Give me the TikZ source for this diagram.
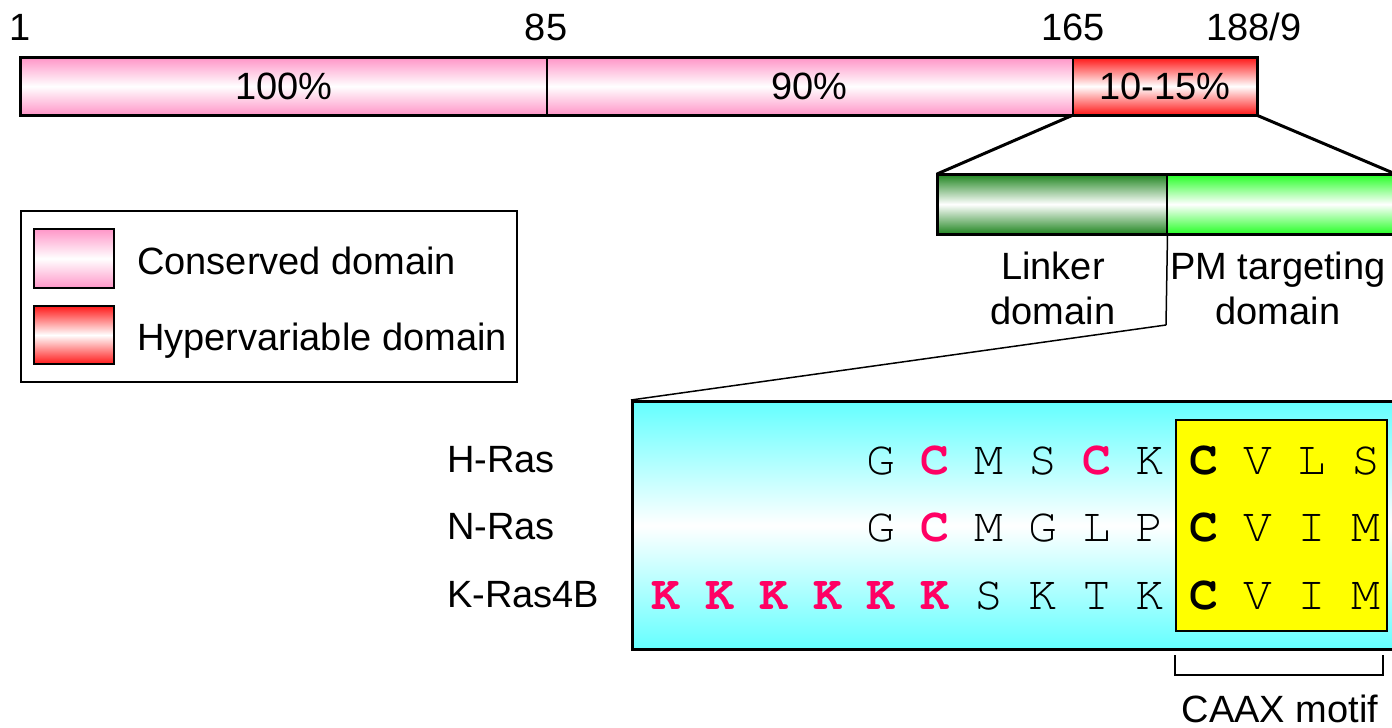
\documentclass[tikz,border=0pt]{standalone}
\usepackage{fontspec}
\setmainfont{Liberation Sans}
\newfontfamily\seqfont{TeX Gyre Cursor}
\definecolor{pinkc}{RGB}{255,150,200}
\definecolor{redc}{RGB}{255,25,25}
\definecolor{dgreen}{RGB}{35,135,35}
\definecolor{lgreen}{RGB}{40,255,40}
\definecolor{cyanc}{RGB}{100,255,255}
\definecolor{yell}{RGB}{255,255,0}
\definecolor{magc}{RGB}{255,0,100}
\tikzset{
  lbl/.style={font=\fontsize{38}{45}\selectfont, inner sep=0},
  seg/.style={draw, line width=1.5, inner sep=0, anchor=north west, minimum height=#1},
  seg/.default=57,
  outline/.style={draw, line width=3},
  thinline/.style={line width=1.5},
  zoomline/.style={line width=3},
  aa/.style={font=\seqfont\fontsize{48}{50}\selectfont, inner sep=0, anchor=base},
  aared/.style={aa, font=\seqfont\bfseries\fontsize{48}{50}\selectfont, text=magc},
  aabold/.style={aa, font=\seqfont\bfseries\fontsize{48}{50}\selectfont},
}
\begin{document}
\begin{tikzpicture}[x=1pt, y=-1pt]
\useasboundingbox (0,0) rectangle (1392,728);
\clip (0,0) rectangle (1392,728);
\fill[white] (0,0) rectangle (1392,728);

% full-length protein bar
\node[seg, minimum width=526, top color=pinkc, bottom color=pinkc, middle color=white] (s1) at (20,57) {};
\node[seg, minimum width=526, top color=pinkc, bottom color=pinkc, middle color=white] (s2) at (546,57) {};
\node[seg, minimum width=184, top color=redc, bottom color=redc, middle color=white] (s3) at (1072,57) {};
\draw[outline] (s1.north west) rectangle (s3.south east);
\node[lbl] (p1) at (s1.center) {100\%};
\node[lbl] (p2) at (s2.center) {90\%};
\node[lbl] (p3) at (s3.center) {10-15\%};

% residue numbers
\node[lbl, anchor=base] (n1) at (s1.north west |- 0,40) {1};
\node[lbl, anchor=base] (n85) at (s2.north west |- 0,40) {85};
\node[lbl, anchor=base] (n165) at (1073,40) {165};
\node[lbl, anchor=base] (n188) at (1254,40) {188/9};

% hypervariable region enlarged
\node[seg=59, minimum width=229, top color=dgreen, bottom color=dgreen, middle color=white] (g1) at (937,174) {};
\node[seg=59, minimum width=228, top color=lgreen, bottom color=lgreen, middle color=white] (g2) at (1166,174) {};
\draw[outline] (g1.north west) rectangle (g2.south east);
\draw[zoomline] (s3.south west) -- (g1.north west);
\draw[zoomline] (s3.south east) -- (g2.north east);
\node[lbl, align=center, anchor=north] (linker) at (1053,252) {Linker\\domain};
\node[lbl, align=center, anchor=north] (pmt) at (1278,252) {PM targeting\\domain};

% legend
\node[draw, line width=2, inner sep=0, anchor=north west, minimum width=496, minimum height=171] (leg) at (20,210) {};
\node[draw, line width=2, inner sep=0, anchor=north west, minimum width=80, minimum height=59,
  top color=pinkc, bottom color=pinkc, middle color=white] (sw1) at (33,228) {};
\node[draw, line width=2, inner sep=0, anchor=north west, minimum width=80, minimum height=58,
  top color=redc, bottom color=redc, middle color=white] (sw2) at (33,305) {};
\node[lbl, anchor=base west] (l1) at (137,274) {Conserved domain};
\node[lbl, anchor=base west] (l2) at (137,350) {Hypervariable domain};

% sequence panel
\node[draw, line width=3, inner sep=0, anchor=north west, minimum width=765, minimum height=248,
  top color=cyanc, bottom color=cyanc, middle color=white] (seq) at (631,400) {};
\node[draw, line width=2, fill=yell, inner sep=0, anchor=north west, minimum width=211, minimum height=211] (caax) at (1175,419) {};
\coordinate (kink) at (1166,325);
\draw[thinline] (g1.south east) -- (kink);
\draw[thinline] (kink) -- (seq.north west);

% protein names
\node[lbl, anchor=base west] (hras) at (447,472) {H-Ras};
\node[lbl, anchor=base west] (nras) at (447,539) {N-Ras};
\node[lbl, anchor=base west] (kras) at (447,607) {K-Ras4B};

% residues, one column every 53.8 units starting at 666
\foreach \i/\r/\st in {4/G/aa,5/C/aared,6/M/aa,7/S/aa,8/C/aared,9/K/aa,10/C/aabold,11/V/aa,12/L/aa,13/S/aa}
  \node[\st] (h\i) at (666+53.8*\i,474) {\r};
\foreach \i/\r/\st in {4/G/aa,5/C/aared,6/M/aa,7/G/aa,8/L/aa,9/P/aa,10/C/aabold,11/V/aa,12/I/aa,13/M/aa}
  \node[\st] (n\i) at (666+53.8*\i,541) {\r};
\foreach \i/\r/\st in {0/K/aared,1/K/aared,2/K/aared,3/K/aared,4/K/aared,5/K/aared,6/S/aa,7/K/aa,8/T/aa,9/K/aa,10/C/aabold,11/V/aa,12/I/aa,13/M/aa}
  \node[\st] (k\i) at (666+53.8*\i,609) {\r};

% CAAX bracket
\coordinate (b1) at (caax.south west |- 0,655);
\coordinate (b2) at (1383,655);
\draw[thinline] (b1) -- ++(0,20) -| (b2);
\node[lbl, anchor=base] (caaxlbl) at (1280,722) {CAAX motif};
\end{tikzpicture}
\end{document}
